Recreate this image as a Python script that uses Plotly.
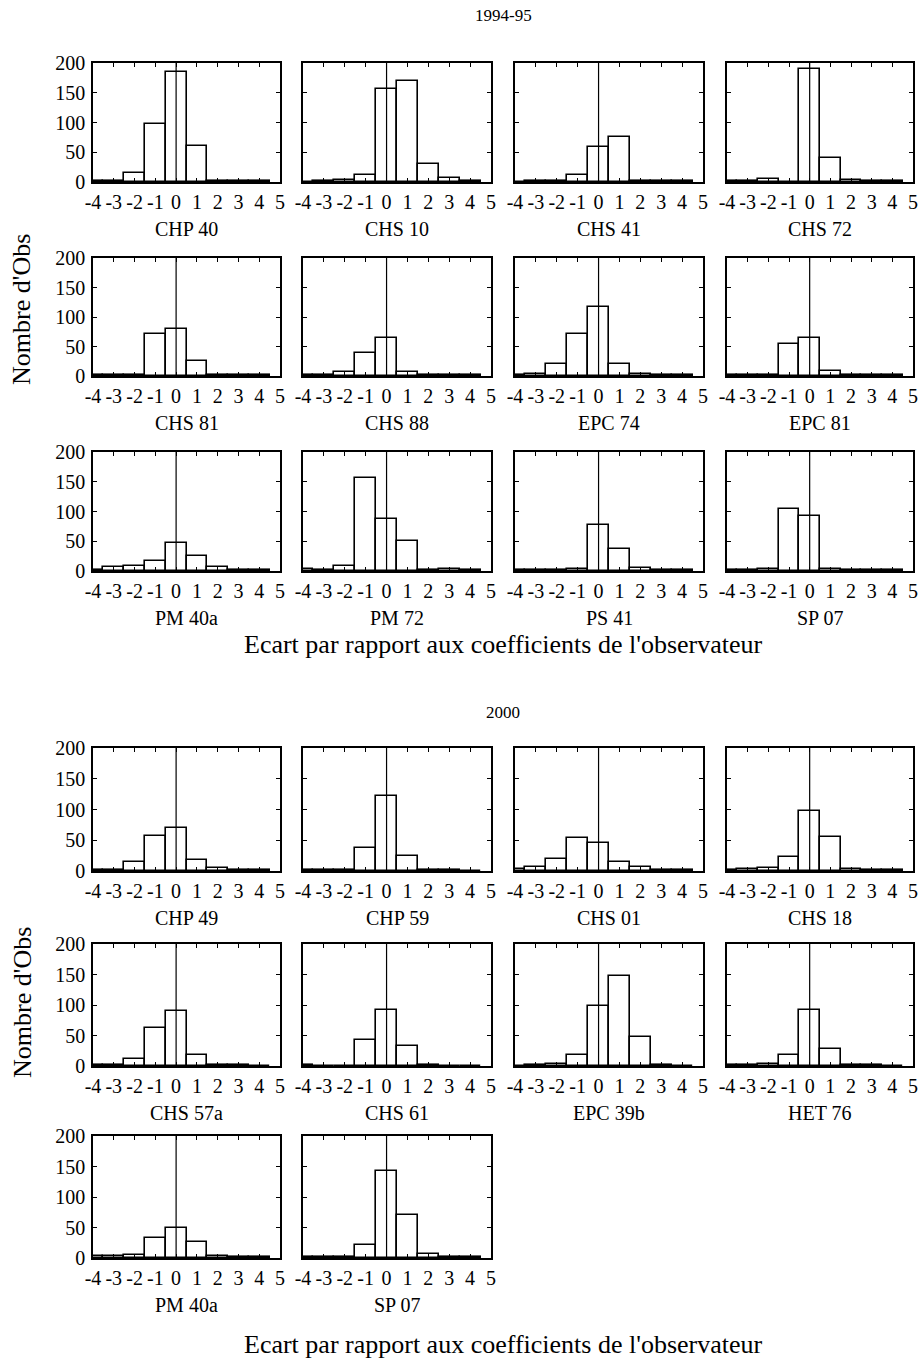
import plotly.graph_objects as go

# Histogram bins: deviation from the observer's coefficients
bins = [-4, -3, -2, -1, 0, 1, 2, 3, 4]
x_ticks = [-4, -3, -2, -1, 0, 1, 2, 3, 4, 5]
y_ticks = [0, 50, 100, 150, 200]

# 1994-95 readers
names_1994 = ["CHP 40", "CHS 10", "CHS 41", "CHS 72",
              "CHS 81", "CHS 88", "EPC 74", "EPC 81",
              "PM 40a", "PM 72", "PS 41", "SP 07"]
chp40 = [1, 1, 15, 98, 185, 60, 1, 1, 1]
chs10 = [0, 2, 3, 12, 156, 170, 30, 6, 1]
chs41 = [0, 1, 1, 12, 58, 75, 1, 1, 1]
chs72 = [1, 1, 5, 0, 190, 40, 3, 1, 1]
chs81 = [1, 1, 1, 71, 79, 25, 1, 1, 1]
chs88 = [1, 1, 7, 39, 64, 7, 1, 1, 1]
epc74 = [2, 3, 20, 71, 117, 21, 3, 1, 1]
epc81 = [1, 1, 1, 55, 64, 8, 1, 1, 1]
pm40a_94 = [2, 6, 9, 17, 47, 25, 6, 2, 1]
pm72 = [4, 2, 8, 157, 88, 50, 1, 4, 2]
ps41 = [1, 1, 2, 3, 77, 37, 5, 1, 1]
sp07_94 = [1, 1, 4, 105, 93, 3, 1, 1, 1]
counts_1994 = [chp40, chs10, chs41, chs72, chs81, chs88,
               epc74, epc81, pm40a_94, pm72, ps41, sp07_94]

# 2000 readers
names_2000 = ["CHP 49", "CHP 59", "CHS 01", "CHS 18",
              "CHS 57a", "CHS 61", "EPC 39b", "HET 76",
              "PM 40a", "SP 07"]
chp49 = [1, 2, 15, 57, 70, 18, 5, 2, 1]
chp59 = [2, 1, 1, 38, 122, 24, 1, 1, 0]
chs01 = [3, 6, 20, 53, 45, 15, 6, 2, 1]
chs18 = [2, 4, 5, 22, 97, 55, 4, 2, 1]
chs57a = [1, 1, 12, 63, 90, 18, 2, 1, 0]
chs61 = [1, 0, 0, 43, 92, 33, 2, 0, 0]
epc39b = [0, 1, 3, 18, 98, 147, 47, 1, 0]
het76 = [1, 2, 4, 18, 91, 28, 2, 1, 0]
pm40a_00 = [3, 3, 5, 32, 50, 27, 3, 2, 1]
sp07_00 = [2, 1, 1, 22, 143, 70, 6, 2, 1]
counts_2000 = [chp49, chp59, chs01, chs18, chs57a, chs61,
               epc39b, het76, pm40a_00, sp07_00]

W, H = 923, 1365
FONT = "Liberation Serif, Times New Roman, serif"

col_px = [(93, 280), (303, 491), (515, 703), (727, 913)]
rows_1994 = [(63, 182), (258, 376), (452, 571)]
rows_2000 = [(748, 871), (944, 1066), (1136, 1258)]

fig = go.Figure()
layout = {}
annotations = []
shapes = []


def fx(px):
    return px / W


def fy(py):
    return 1 - py / H


panels = []
for i, (nm, c) in enumerate(zip(names_1994, counts_1994)):
    panels.append((nm, c, i % 4, col_px[i % 4], rows_1994[i // 4]))
for i, (nm, c) in enumerate(zip(names_2000, counts_2000)):
    panels.append((nm, c, i % 4, col_px[i % 4], rows_2000[i // 4]))

for k, (nm, c, col, (x0, x1), (y0, y1)) in enumerate(panels):
    n = k + 1
    xa = "x" if n == 1 else f"x{n}"
    ya = "y" if n == 1 else f"y{n}"
    fig.add_trace(go.Bar(
        x=bins, y=c, width=1, xaxis=xa, yaxis=ya,
        marker=dict(color="white", line=dict(color="black", width=1.6)),
        showlegend=False, hoverinfo="x+y"))
    common = dict(showline=True, mirror="ticks", linecolor="black",
                  linewidth=1.6, ticks="inside", ticklen=4, tickwidth=1.2,
                  tickcolor="black", showgrid=False, zeroline=False,
                  tickfont=dict(family=FONT, size=20, color="black"),
                  fixedrange=True, tickangle=0, automargin=False)
    layout[f"xaxis{n if n > 1 else ''}"] = dict(
        common, domain=[fx(x0), fx(x1)], range=[-4, 5],
        tickvals=x_ticks, ticktext=[str(v) for v in x_ticks],
        anchor=ya, ticklabelstandoff=1)
    layout[f"yaxis{n if n > 1 else ''}"] = dict(
        common, domain=[fy(y1), fy(y0)], range=[0, 200],
        tickvals=y_ticks, anchor=xa, showticklabels=(col == 0),
        ticklabelstandoff=2)
    # vertical reference line at zero deviation
    shapes.append(dict(type="line", xref=xa, yref=ya, x0=0, x1=0,
                       y0=0, y1=200, line=dict(color="black", width=1.2)))
    annotations.append(dict(text=nm, x=fx((x0 + x1) / 2), y=fy(y1 + 47),
                            xref="paper", yref="paper", showarrow=False,
                            xanchor="center", yanchor="middle",
                            font=dict(family=FONT, size=20, color="black")))

xlabel = "Ecart par rapport aux coefficients de l'observateur"
for txt, py, size in [("1994-95", 16, 17), ("2000", 712, 17),
                      (xlabel, 644, 26), (xlabel, 1344, 26)]:
    annotations.append(dict(text=txt, x=fx(503), y=fy(py), xref="paper",
                            yref="paper", showarrow=False, xanchor="center",
                            yanchor="middle",
                            font=dict(family=FONT, size=size, color="black")))
for py in [310, 1003]:
    annotations.append(dict(text="Nombre d'Obs", x=fx(22), y=fy(py),
                            xref="paper", yref="paper", showarrow=False,
                            textangle=-90, xanchor="center", yanchor="middle",
                            font=dict(family=FONT, size=26, color="black")))

fig.update_layout(width=W, height=H, margin=dict(l=0, r=0, t=0, b=0),
                  paper_bgcolor="white", plot_bgcolor="white",
                  bargap=0, annotations=annotations, shapes=shapes, **layout)
fig.write_html("out.html")
